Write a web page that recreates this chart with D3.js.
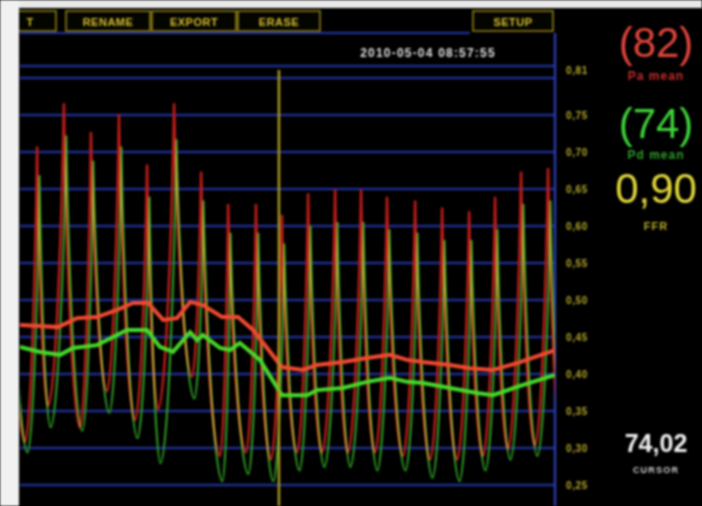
<!DOCTYPE html>
<html>
<head>
<meta charset="utf-8">
<script src="https://cdn.jsdelivr.net/npm/d3@7"></script>
<style>
    html, body { margin: 0; padding: 0; background: #000; overflow: hidden; }
    svg { display: block; filter: blur(0.9px); }
</style>
</head>
<body>
<div id="chart"></div>
<script>
// beats: peak time (s), trough before each peak (s), pressures in mmHg
const beatTimes   = [-0.36, 0.64, 1.64, 2.65, 3.70, 4.75, 5.76, 6.77, 7.78, 8.82, 9.79, 10.77, 11.78, 12.75, 13.72, 14.77, 15.78, 16.79, 17.76, 18.73, 19.74];
const troughTimes = [-0.80, 0.19, 1.05, 2.24, 3.25, 4.30, 5.16, 6.43, 7.48, 8.45, 9.38, 10.36, 11.29, 12.26, 13.27, 14.32, 15.33, 16.34, 17.31, 18.24, 19.25, 20.26];
const paPeaks   = [125, 143, 155, 147, 152, 138, 155, 136, 127, 127, 124, 130, 131, 131, 129, 128, 126, 125, 129, 136, 137];
const pdPeaks   = [117, 135, 146, 139, 143, 129, 145, 128, 119, 119, 116, 121, 122, 122, 120, 119, 117, 117, 120, 127, 128];
const paTroughs = [60, 61, 71, 65, 75, 67, 70, 79, 57, 58, 56, 58, 58, 58, 58, 57, 56, 56, 57, 59, 60, 60];
const pdTroughs = [56, 58, 65, 64, 69, 62, 55, 73, 50, 52, 50, 53, 54, 54, 53, 53, 51, 50, 53, 56, 57, 57];
const pdLag = 0.09; // distal trace runs slightly behind the aortic one

// mean pressure curves
const paMeanT = [0, 0.75, 1.42, 2.13, 2.88, 3.63, 4.22, 4.79, 5.35, 5.87, 6.36, 6.84, 7.55, 8.15, 8.71, 9.79, 10.58, 11.10, 12.07, 12.97, 13.83, 14.47, 15.07, 16.07, 16.82, 17.68, 18.58, 20.0];
const paMeanP = [93.4, 93.1, 92.8, 95.3, 95.6, 97.6, 99.5, 99.5, 94.8, 95.3, 99.8, 98.9, 95.6, 95.6, 92.0, 81.7, 80.9, 82.3, 83.1, 84.2, 85.1, 83.7, 83.1, 82.3, 81.4, 80.9, 82.8, 86.4];
const pdMeanT = [0, 0.75, 1.50, 1.98, 2.88, 4.00, 4.75, 5.23, 5.72, 6.17, 6.36, 6.62, 6.84, 7.48, 7.85, 8.22, 8.97, 9.79, 10.73, 11.10, 12.07, 12.97, 13.83, 14.47, 15.07, 16.07, 17.08, 17.68, 18.58, 20.0];
const pdMeanP = [87.3, 85.9, 85.1, 87.0, 87.8, 92.0, 92.0, 87.3, 85.9, 89.8, 91.4, 89.2, 90.6, 87.0, 86.4, 88.4, 83.7, 73.9, 73.9, 75.3, 75.9, 77.6, 78.7, 77.6, 77.3, 75.9, 74.5, 73.9, 76.2, 79.5];

// scale ticks on the right
const axisValues = [0.81, 0.75, 0.70, 0.65, 0.60, 0.55, 0.50, 0.45, 0.40, 0.35, 0.30, 0.25];
const gridValues = [0.80, 0.75, 0.70, 0.65, 0.60, 0.55, 0.50, 0.45, 0.40, 0.35, 0.30, 0.25];

const cursorTime = 9.68;
const timestamp = "2010-05-04 08:57:55";
const buttons = ["T", "RENAME", "EXPORT", "ERASE", "SETUP"];
const readouts = { pa: "(82)", pd: "(74)", ffr: "0,90", cursor: "74,02" };

const width = 702, height = 506;
const plot = { left: 20, right: 555, top: 62, bottom: 506 };
const font = "'Liberation Sans', Arial, sans-serif";

const svg = d3.select("#chart").append("svg")
    .attr("width", width)
    .attr("height", height);

svg.append("rect").attr("width", width).attr("height", height).attr("fill", "#000");

const x = d3.scaleLinear().domain([0, 20]).range([plot.left, plot.right]);
const yP = d3.scaleLinear().domain([50, 160]).range([481.2, 85.2]);
const yF = d3.scaleLinear().domain([0.25, 0.75]).range([485, 115]);

// grid
const grid = svg.append("g");
grid.append("line")
    .attr("x1", plot.left).attr("x2", plot.right)
    .attr("y1", 66).attr("y2", 66)
    .attr("stroke", "#1d2d92").attr("stroke-width", 2.5);
grid.selectAll(".grid")
    .data(gridValues)
    .join("line")
    .attr("class", "grid")
    .attr("x1", plot.left).attr("x2", plot.right)
    .attr("y1", d => yF(d)).attr("y2", d => yF(d))
    .attr("stroke", "#1d2d92").attr("stroke-width", 2.5);

// header line + right border
svg.append("line")
    .attr("x1", plot.left).attr("x2", 470).attr("y1", 33).attr("y2", 33)
    .attr("stroke", "#1d2d92").attr("stroke-width", 2.5);
svg.append("line")
    .attr("x1", plot.right).attr("x2", plot.right).attr("y1", 33).attr("y2", height)
    .attr("stroke", "#2a3aa8").attr("stroke-width", 2.5);

// right axis labels
const axis = svg.append("g")
    .attr("transform", `translate(566,0)`)
    .call(d3.axisRight(yF).tickValues(axisValues).tickSize(0).tickPadding(0)
        .tickFormat(d => d3.format(".2f")(d).replace(".", ",")));
axis.select(".domain").remove();
axis.selectAll("text")
    .attr("fill", "#b4a82a")
    .style("font-family", font)
    .style("font-size", "10px")
    .style("font-weight", "bold")
    .style("letter-spacing", "0.6px");

// waveforms
svg.append("clipPath").attr("id", "plotClip")
    .append("rect")
    .attr("x", plot.left).attr("y", plot.top)
    .attr("width", plot.right - plot.left).attr("height", plot.bottom - plot.top);

function beatPoints(peaks, troughs, lag) {
    const pts = [];
    beatTimes.forEach((t, i) => {
        pts.push([troughTimes[i] + lag, troughs[i]]);
        pts.push([t + lag, peaks[i]]);
    });
    pts.push([troughTimes[beatTimes.length] + lag, troughs[beatTimes.length]]);
    return pts;
}

// steep systolic spikes, rounded diastolic troughs
function wavePath(pts) {
    const p = d3.path();
    p.moveTo(x(pts[0][0]), yP(pts[0][1]));
    for (let i = 1; i < pts.length; i++) {
        const ax = x(pts[i - 1][0]), ay = yP(pts[i - 1][1]);
        const bx = x(pts[i][0]), by = yP(pts[i][1]);
        const dx = bx - ax, dy = by - ay;
        if (i % 2 === 1) {
            // trough -> peak
            p.bezierCurveTo(ax + dx * 0.45, ay, bx - dx * 0.12, by - dy * 0.4, bx, by);
        } else {
            // peak -> trough
            p.bezierCurveTo(ax + dx * 0.12, ay + dy * 0.4, bx - dx * 0.45, by, bx, by);
        }
    }
    return p.toString();
}

const waves = svg.append("g").attr("clip-path", "url(#plotClip)");
waves.append("path")
    .attr("d", wavePath(beatPoints(pdPeaks, pdTroughs, pdLag)))
    .attr("fill", "none")
    .attr("stroke", "#309a24")
    .attr("stroke-width", 2.2)
    .style("mix-blend-mode", "screen");
waves.append("path")
    .attr("d", wavePath(beatPoints(paPeaks, paTroughs, 0)))
    .attr("fill", "none")
    .attr("stroke", "#b81c18")
    .attr("stroke-width", 2.6)
    .style("mix-blend-mode", "screen");

// cursor
svg.append("line")
    .attr("x1", x(cursorTime)).attr("x2", x(cursorTime))
    .attr("y1", 70).attr("y2", height)
    .attr("stroke", "#a89a22").attr("stroke-width", 2.5);

// mean lines
const meanLine = d3.line().x(d => x(d[0])).y(d => yP(d[1]));
waves.append("path")
    .attr("d", meanLine(d3.zip(pdMeanT, pdMeanP)))
    .attr("fill", "none").attr("stroke", "#48d82a").attr("stroke-width", 4);
waves.append("path")
    .attr("d", meanLine(d3.zip(paMeanT, paMeanP)))
    .attr("fill", "none").attr("stroke", "#f04a30").attr("stroke-width", 4);

// timestamp
svg.append("text")
    .attr("x", 428).attr("y", 57)
    .attr("text-anchor", "middle")
    .attr("fill", "#e0e0e0")
    .style("font-family", font).style("font-size", "12px").style("font-weight", "bold")
    .style("letter-spacing", "1.2px")
    .text(timestamp);

// button bar
const btnBox = [[4, 56], [66, 150], [152, 236], [238, 320], [473, 553]];
const bar = svg.append("g");
bar.selectAll("rect")
    .data(buttons)
    .join("rect")
    .attr("x", (d, i) => btnBox[i][0]).attr("y", 11)
    .attr("width", (d, i) => btnBox[i][1] - btnBox[i][0]).attr("height", 20)
    .attr("fill", "#050500").attr("stroke", "#8e7e16").attr("stroke-width", 1.6);
bar.selectAll("text")
    .data(buttons)
    .join("text")
    .attr("x", (d, i) => i === 0 ? 30 : (btnBox[i][0] + btnBox[i][1]) / 2)
    .attr("y", 26)
    .attr("text-anchor", "middle")
    .attr("fill", "#d6c02c")
    .style("font-family", font).style("font-size", "11px").style("font-weight", "bold")
    .style("letter-spacing", "0.5px")
    .text(d => d);

// readouts on the right
const panel = svg.append("g").style("font-family", font);
function readout(text, y, size, color, weight, spacing) {
    panel.append("text")
        .attr("x", 656).attr("y", y)
        .attr("text-anchor", "middle")
        .attr("fill", color)
        .style("font-size", size + "px")
        .style("font-weight", weight || "normal")
        .style("letter-spacing", (spacing || 0) + "px")
        .text(text);
}
readout(readouts.pa, 57, 42, "#e0443c");
readout("Pa mean", 80, 12, "#c42c2c", "bold", 1);
readout(readouts.pd, 138, 42, "#3ed43a");
readout("Pd mean", 159, 12, "#2f9e2a", "bold", 1);
readout(readouts.ffr, 203, 42, "#e2d83a");
readout("FFR", 230, 11, "#b8b024", "bold", 1);
readout(readouts.cursor, 452, 25, "#f0f0f0", "bold");
readout("CURSOR", 473, 9, "#d0d0d0", "bold", 1.2);

// photo margins (white bezel)
svg.append("rect").attr("x", 0).attr("y", 0).attr("width", width).attr("height", 8).attr("fill", "#e9e9e9");
svg.append("rect").attr("x", 0).attr("y", 0).attr("width", 19).attr("height", height).attr("fill", "#f1f1f1");
</script>
</body>
</html>
